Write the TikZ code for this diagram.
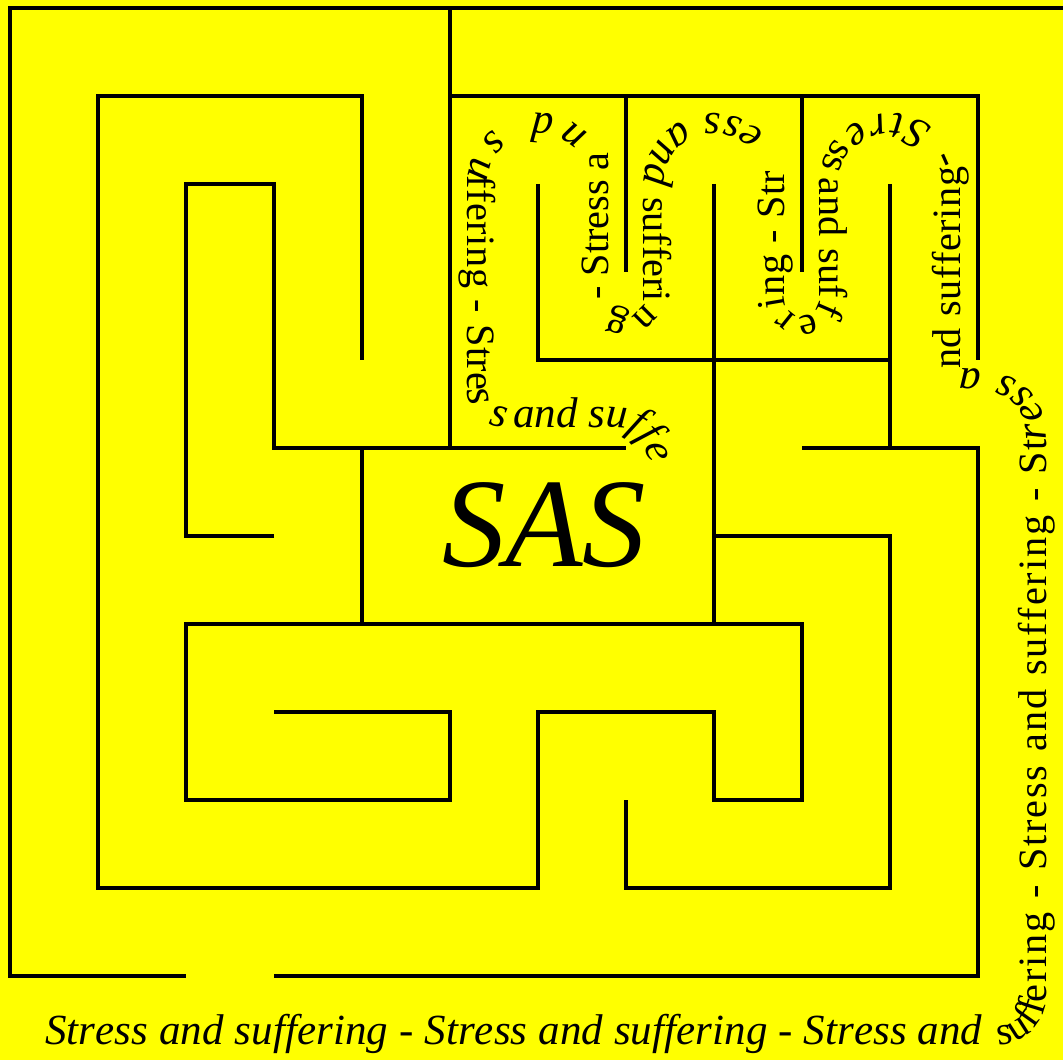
\documentclass[tikz,border=0pt]{standalone}
\usepackage{fontspec}
\setmainfont{Liberation Serif}
\usetikzlibrary{decorations.text}
\definecolor{mazeyellow}{RGB}{255,255,0}
\def\slantfont{\fontsize{13.9}{16}\selectfont\itshape}
\def\plainfont{\fontsize{13}{15}\selectfont\upshape}

\begin{document}
\begin{tikzpicture}[wall/.style={line width=1.3pt},
    textpiece/.style={decorate, decoration={text along path, text align={fit to path}, text={#1}}}]
    \fill[mazeyellow] (-0.114,-0.955) rectangle (11.966,11.091);
    \useasboundingbox (-0.114,-0.955) rectangle (11.966,11.091);
    % outer frame
    \draw[wall] (12.1,11) -- (0,11) -- (0,0) -- (2,0);
    \draw[wall] (3,0) -- (11,0) -- (11,6) -- (9,6);
    % upper right block
    \draw[wall] (5,11) -- (5,6);
    \draw[wall] (5,10) -- (11,10) -- (11,7);
    \draw[wall] (7,10) -- (7,8);
    \draw[wall] (9,10) -- (9,8);
    \draw[wall] (6,9) -- (6,7) -- (10,7);
    \draw[wall] (8,9) -- (8,4);
    \draw[wall] (10,9) -- (10,6);
    % spiral
    \draw[wall] (4,7) -- (4,10) -- (1,10) -- (1,1) -- (6,1) -- (6,3) -- (8,3) -- (8,2)
        -- (9,2) -- (9,4) -- (2,4) -- (2,2) -- (5,2) -- (5,3) -- (3,3);
    \draw[wall] (3,5) -- (2,5) -- (2,9) -- (3,9) -- (3,6) -- (7,6);
    \draw[wall] (4,6) -- (4,4);
    \draw[wall] (8,5) -- (10,5) -- (10,1) -- (7,1) -- (7,2);
    % centre
    \node[font=\fontsize{41}{48}\selectfont\itshape] (sas) at (6.07,5.12) {SAS};
    % the winding text, piece by piece
    \path[textpiece={|\slantfont|Stress and suffering - Stress and suffering - Stress and}]
        (0.4,-0.78) -- (11.05,-0.78);
    \path[textpiece={|\plainfont|suffering - Stress and suffering - St}]
        (11.23,-0.78) arc[start angle=-90, end angle=0, radius=0.55] -- (11.78,6.1);
    \path[textpiece={|\slantfont|ress a}]
        (11.78,6.1) .. controls (11.78,6.75) and (11.3,6.9) .. (10.8,6.9);
    \path[textpiece={|\plainfont|nd suffering}]
        (10.8,6.9) -- (10.8,9.2);
    \path[textpiece={|\slantfont|- Stre}]
        (10.761,9.247) arc[start angle=18, end angle=132, radius=0.8];
    \path[textpiece={|\plainfont|ss and suffering - Str}]
        (9.387,9.514) arc[start angle=140, end angle=180, radius=0.8]
        -- (9.2,7.7) arc[start angle=0, end angle=-180, radius=0.2] -- (8.8,9.15);
    \path[textpiece={|\slantfont|ess and}]
        (8.566,9.566) arc[start angle=45, end angle=180, radius=0.8];
    \path[textpiece={|\plainfont|suffering - Stress a}]
        (7.2,8.85) -- (7.2,7.7) arc[start angle=0, end angle=-180, radius=0.2] -- (6.8,9.3);
    \path[textpiece={|\slantfont|nd su}]
        (6.566,9.566) arc[start angle=45, end angle=175, radius=0.8];
    \path[textpiece={|\plainfont|ffering - Stre}]
        (5.2,9.1) -- (5.2,6.65);
    \path[textpiece={|\slantfont|ss}]
        (5.2,6.65) arc[start angle=180, end angle=270, radius=0.42];
    \path[textpiece={|\slantfont|and suffe}]
        (5.72,6.23) -- (6.85,6.23) .. controls (7.05,6.23) and (7.2,6.1) .. (7.25,5.9);
\end{tikzpicture}
\end{document}
